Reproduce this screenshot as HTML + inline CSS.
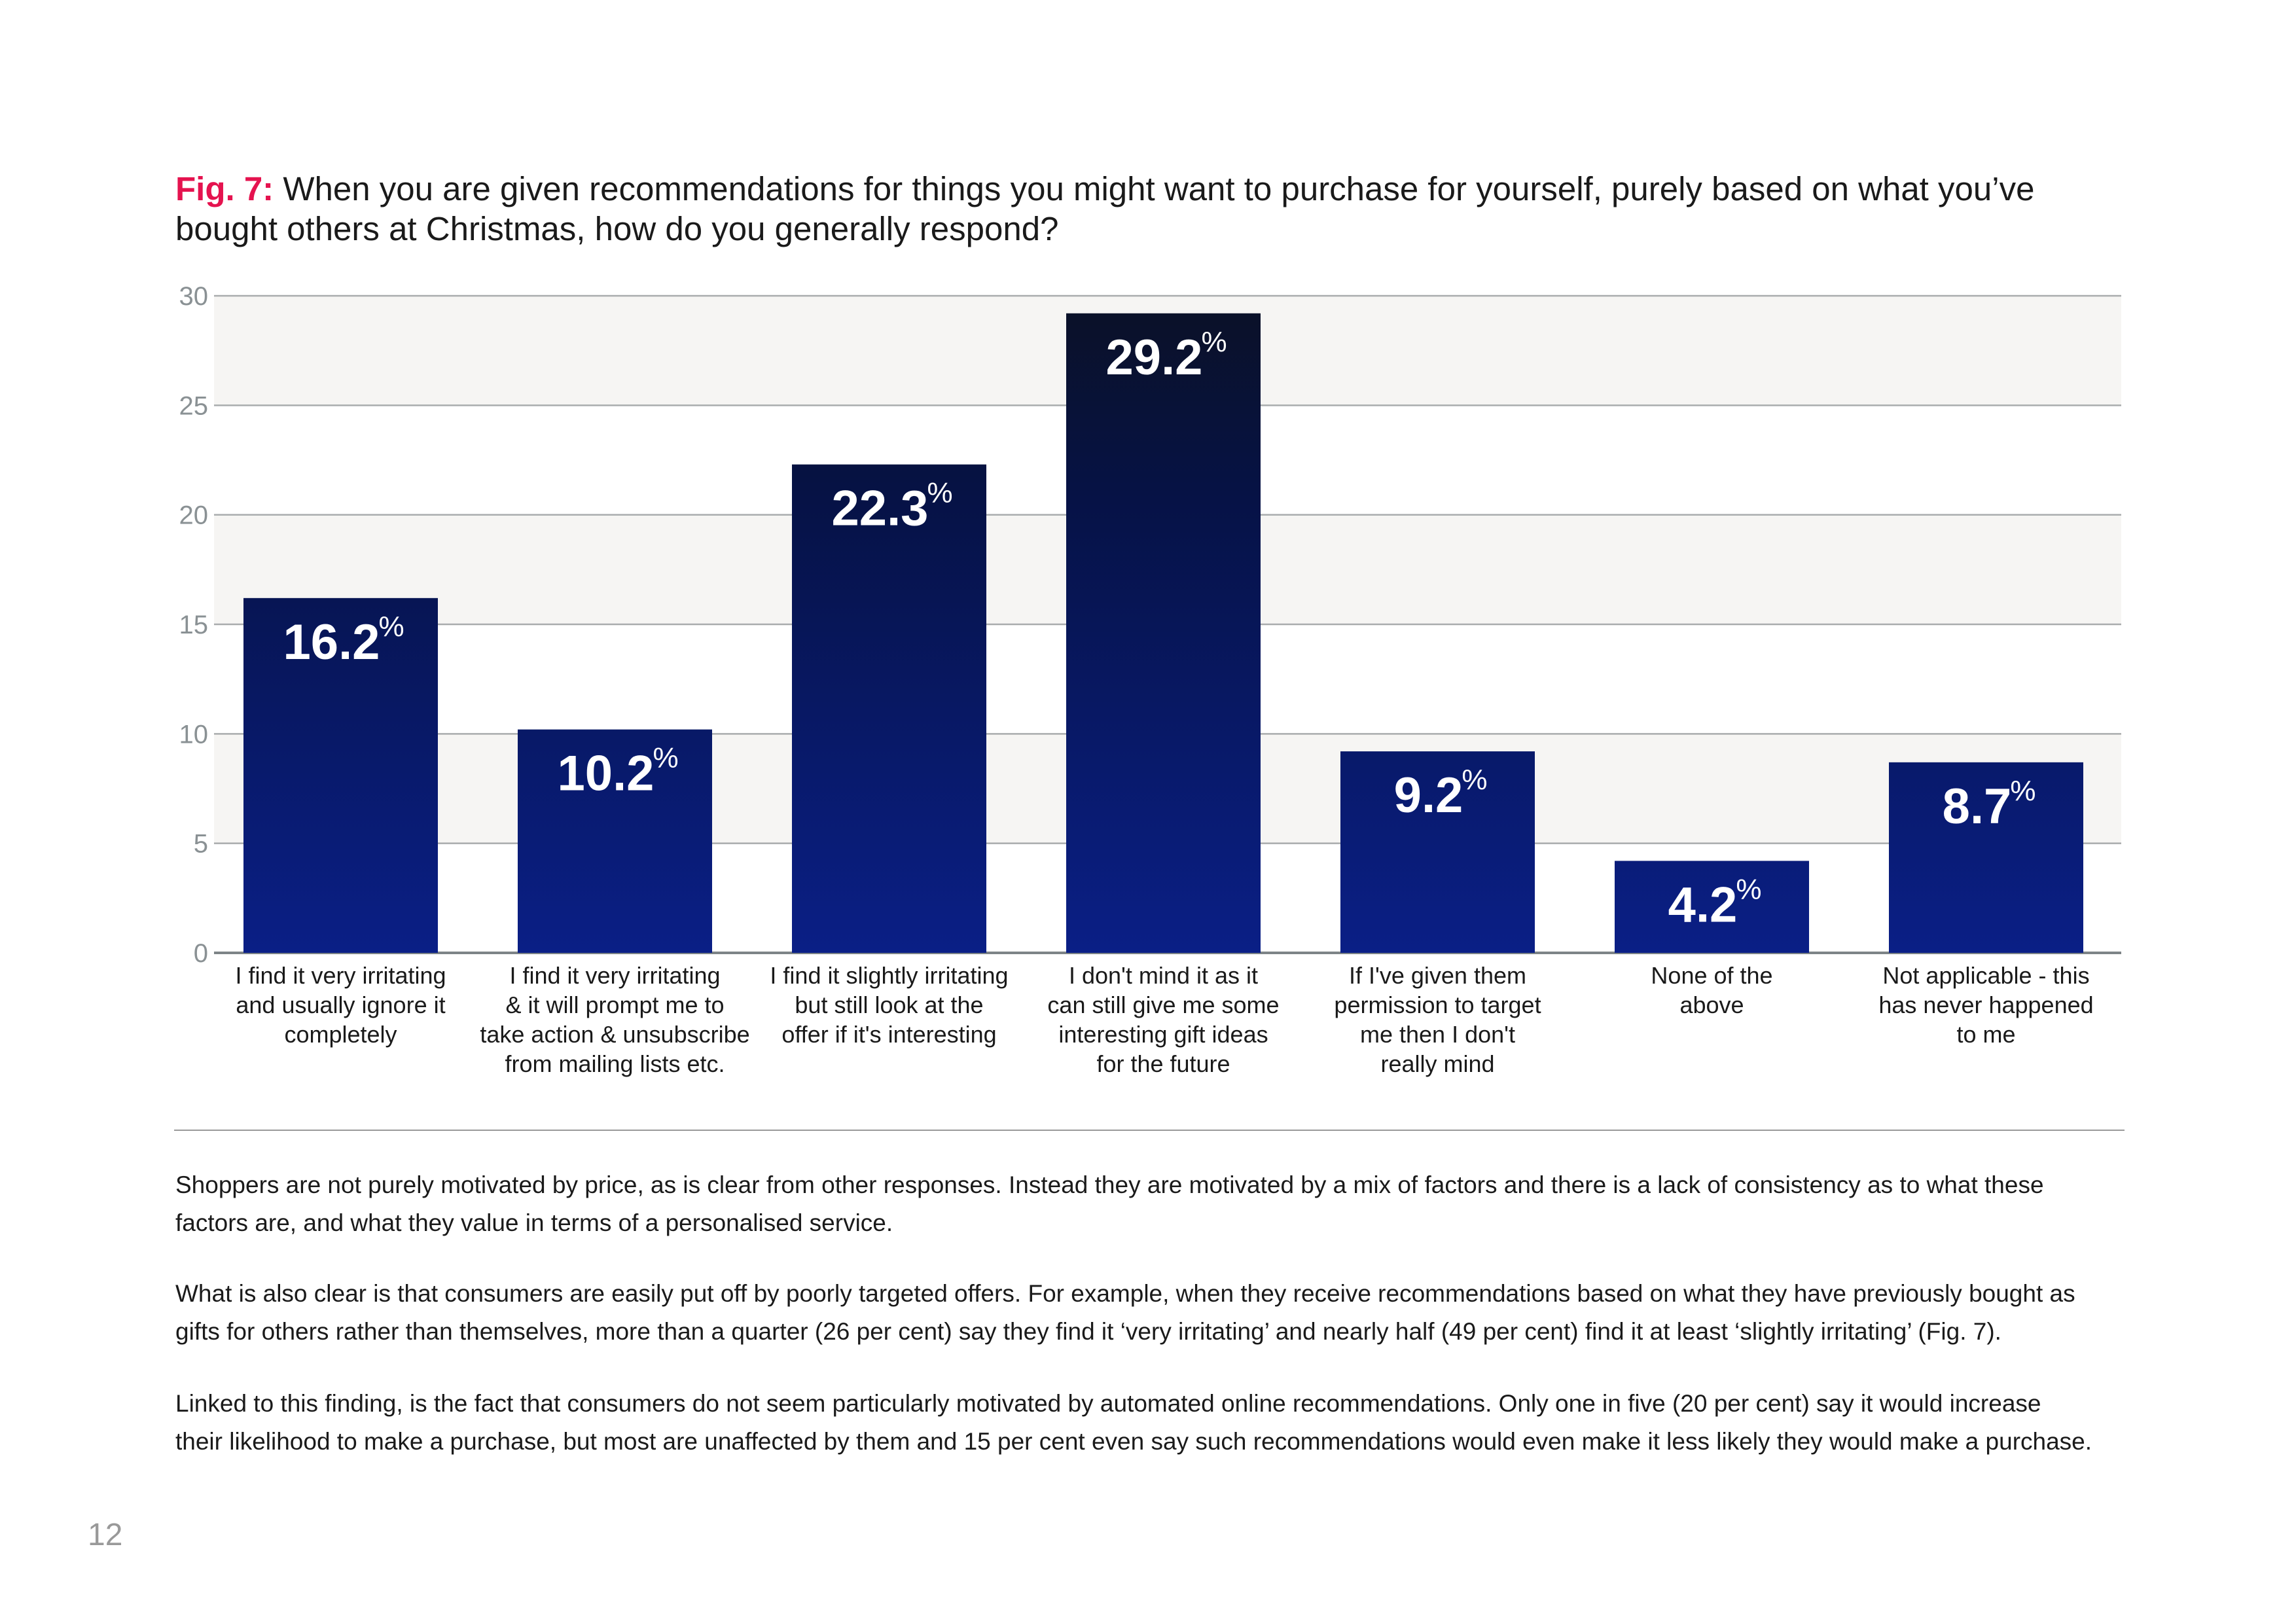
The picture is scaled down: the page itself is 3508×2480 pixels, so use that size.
<!DOCTYPE html>
<html><head><meta charset="utf-8">
<style>
html,body{margin:0;padding:0;background:#fff;}
body{width:3508px;height:2480px;position:relative;overflow:hidden;font-family:"Liberation Sans",sans-serif;}
.title{position:absolute;left:268px;top:258px;font-size:51px;line-height:61px;color:#1a1a1a;width:3100px;}
.title b{color:#e5134f;}
.para{position:absolute;left:268px;font-size:37px;line-height:58px;color:#1a1a1a;width:3100px;}
</style></head><body>
<div class="title"><b>Fig. 7:</b> When you are given recommendations for things you might want to purchase for yourself, purely based on what you’ve<br>bought others at Christmas, how do you generally respond?</div>
<svg id="chart" width="3508" height="1760" style="position:absolute;left:0;top:0" xmlns="http://www.w3.org/2000/svg">
<defs>
<linearGradient id="barg" gradientUnits="userSpaceOnUse">
</linearGradient>
</defs>
</svg>
<div style="position:absolute;left:266px;top:1726px;width:2980px;height:2px;background:#999"></div>
<div class="para" style="top:1782px">Shoppers are not purely motivated by price, as is clear from other responses. Instead they are motivated by a mix of factors and there is a lack of consistency as to what these<br>factors are, and what they value in terms of a personalised service.</div>
<div class="para" style="top:1948px">What is also clear is that consumers are easily put off by poorly targeted offers. For example, when they receive recommendations based on what they have previously bought as<br>gifts for others rather than themselves, more than a quarter (26 per cent) say they find it ‘very irritating’ and nearly half (49 per cent) find it at least ‘slightly irritating’ (Fig. 7).</div>
<div class="para" style="top:2116px">Linked to this finding, is the fact that consumers do not seem particularly motivated by automated online recommendations. Only one in five (20 per cent) say it would increase<br>their likelihood to make a purchase, but most are unaffected by them and 15 per cent even say such recommendations would even make it less likely they would make a purchase.</div>
<div style="position:absolute;left:134px;top:2318px;font-size:48px;color:#999">12</div>
<script>
const categories = [
 ["I find it very irritating","and usually ignore it","completely"],
 ["I find it very irritating","& it will prompt me to","take action & unsubscribe","from mailing lists etc."],
 ["I find it slightly irritating","but still look at the","offer if it's interesting"],
 ["I don't mind it as it","can still give me some","interesting gift ideas","for the future"],
 ["If I've given them","permission to target","me then I don't","really mind"],
 ["None of the","above"],
 ["Not applicable - this","has never happened","to me"]
];
const values = [16.2, 10.2, 22.3, 29.2, 9.2, 4.2, 8.7];
const valueLabels = ["16.2","10.2","22.3","29.2","9.2","4.2","8.7"];
const yTicks = [0,5,10,15,20,25,30];

const NS="http://www.w3.org/2000/svg";
const svg=document.getElementById('chart');
const x0=327, x1=3241, yBase=1456, yTop=452, yMax=30;
const firstBar=372, step=419, barW=297;
const y=v=>yBase-(yBase-yTop)*v/yMax;
const xb=i=>firstBar+i*step;
function mk(t,a){const e=document.createElementNS(NS,t);for(const k in a)e.setAttribute(k,a[k]);svg.appendChild(e);return e;}
const g=svg.querySelector('#barg');
g.setAttribute('x1',0);g.setAttribute('x2',0);g.setAttribute('y1',y(30));g.setAttribute('y2',y(0));
[["0","#0b1126"],["0.3","#061245"],["1","#0a1f86"]].forEach(s=>{const st=document.createElementNS(NS,'stop');st.setAttribute('offset',s[0]);st.setAttribute('stop-color',s[1]);g.appendChild(st);});
for(let i=0;i<yTicks.length-1;i++){
 if(i%2===1){
  const b=mk('rect',{x:x0,y:y(yTicks[i+1]),width:x1-x0,height:y(yTicks[i])-y(yTicks[i+1]),fill:'#f6f5f3'});
  
  
 }
}
yTicks.forEach(t=>{
 const l=mk('line',{x1:x0,x2:x1,y1:y(t),y2:y(t),stroke:t===0?'#7d8487':'#a9acad','stroke-width':t===0?4:2.5});
 
 
 const tx=mk('text',{x:318,y:y(t)+14,'text-anchor':'end','font-size':40,fill:'#8a9194'});
 tx.textContent=t;
 
 
});
values.forEach((v,i)=>{
 const r=mk('rect',{x:xb(i),y:y(v),width:barW,height:yBase-y(v),fill:'url(#barg)'});
 
 
 const t=mk('text',{x:xb(i)+barW/2-14,y:y(v)+93,'text-anchor':'middle','font-size':76,'font-weight':'bold',fill:'#fff'});
 t.textContent=valueLabels[i];
 
 
 const bb=t.getBBox();
 const p=mk('text',{x:bb.x+bb.width-2,y:y(v)+58,'font-size':44,fill:'#fff'});
 p.textContent='%';
 
 
 categories[i].forEach((line,j)=>{
  const c=mk('text',{x:xb(i)+barW/2,y:1503+45*j,'text-anchor':'middle','font-size':36,fill:'#1a1a1a'});
  c.textContent=line;
  
  
 });
});
</script>
</body></html>
